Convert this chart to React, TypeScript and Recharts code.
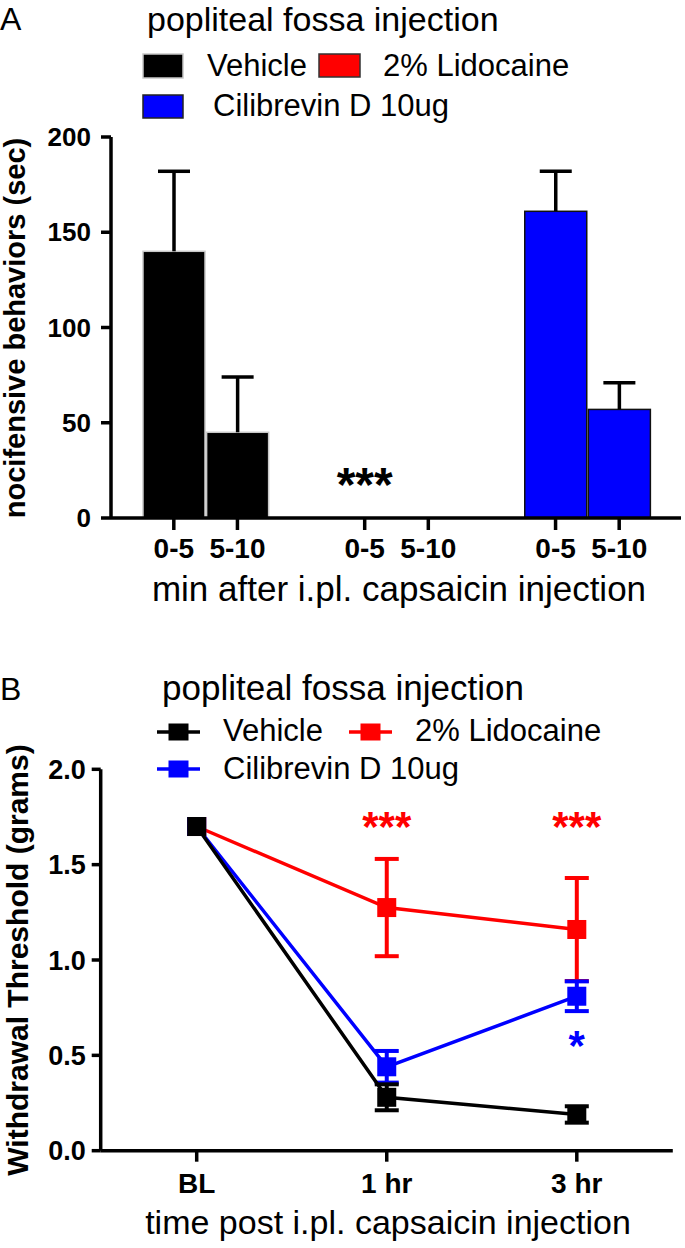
import React from "react";
import { BarChart, Bar, Cell, ErrorBar, XAxis, YAxis, ReferenceDot, LineChart, Line } from "recharts";

const FONT = "'Liberation Sans', Arial, Helvetica, sans-serif";
const BLACK = "#000000";
const RED = "#ff0000";
const BLUE = "#0000ff";

// panel A: nocifensive behaviours, seconds (mean, upper SEM)
const intervals = ["0-5", "5-10"];
const vehicleSec = [140, 45];
const vehicleSecErr = [42, 29];
const lidocaineSec = [0, 0];
const lidocaineSecErr = [0, 0];
const cilibrevinSec = [161, 57];
const cilibrevinSecErr = [21, 14];
const secTicks = [0, 50, 100, 150, 200];

// panel B: withdrawal threshold, grams
const timepoints = ["BL", "1 hr", "3 hr"];
const vehicleThr = [1.7, 0.28, 0.19];
const vehicleThrErr = [null, 0.068, 0.043];
const lidocaineThr = [1.7, 1.275, 1.16];
const lidocaineThrErr = [null, 0.255, 0.27];
const cilibrevinThr = [1.7, 0.44, 0.81];
const cilibrevinThrErr = [null, 0.083, 0.078];
const gramTicks = [0, 0.5, 1, 1.5, 2];

const groupsA = [
  { id: "v", fill: BLACK, edge: "#c8c8c8", mean: vehicleSec, err: vehicleSecErr },
  { id: "l", fill: RED, edge: "#222", mean: lidocaineSec, err: lidocaineSecErr },
  { id: "c", fill: BLUE, edge: "#111", mean: cilibrevinSec, err: cilibrevinSecErr },
];

// one slot per bar, with an empty slot between groups
const barRows: any[] = [];
groupsA.forEach((g, gi) => {
  if (gi > 0) barRows.push({ key: "gap" + gi, label: "", value: null, err: 0, fill: "none", edge: "none" });
  intervals.forEach((lab, i) => {
    barRows.push({ key: g.id + i, label: lab, value: g.mean[i], err: g.err[i], fill: g.fill, edge: g.edge });
  });
});
const barTickKeys = barRows.filter((r) => r.label).map((r) => r.key);
const labelOf: Record<string, string> = {};
barRows.forEach((r) => (labelOf[r.key] = r.label));

const starsA = [{ at: "l0", y: 18, text: "***", color: BLACK, size: 48 }];

const lineRows = timepoints.map((t, i) => ({
  time: t,
  vehicle: vehicleThr[i],
  vehicleErr: vehicleThrErr[i],
  lidocaine: lidocaineThr[i],
  lidocaineErr: lidocaineThrErr[i],
  cilibrevin: cilibrevinThr[i],
  cilibrevinErr: cilibrevinThrErr[i],
}));

const starsB = [
  { at: "1 hr", y: 1.7, text: "***", color: RED, size: 42 },
  { at: "3 hr", y: 1.7, text: "***", color: RED, size: 42 },
  { at: "3 hr", y: 0.555, text: "*", color: BLUE, size: 42 },
];

const axisStroke = { stroke: BLACK, strokeWidth: 3.5 };
const boldTick = (size: number) => ({ fill: BLACK, fontSize: size, fontWeight: 700, fontFamily: FONT });

// bar with a one-sided (upward) SEM whisker, scaled from the bar's own pixel height
function WhiskerBar(props: any) {
  const { x, y, width, height, fill, stroke, payload } = props;
  if (!height || !payload || !payload.value) return <g />;
  const cx = x + width / 2;
  const top = y - (payload.err * height) / payload.value;
  return (
    <g>
      <rect x={x} y={y} width={width} height={height} fill={fill} stroke={stroke} strokeWidth={1.5} />
      {payload.err > 0 && (
        <g stroke={BLACK} strokeWidth={3.5}>
          <line x1={cx} y1={y} x2={cx} y2={top} />
          <line x1={cx - 16} y1={top} x2={cx + 16} y2={top} />
        </g>
      )}
    </g>
  );
}

function squareDot(color: string) {
  return (props: any) => {
    const { cx, cy, index } = props;
    if (cx == null || cy == null) return <g key={color + index} />;
    return <rect key={color + index} x={cx - 9.5} y={cy - 9.5} width={19} height={19} fill={color} />;
  };
}

function starDot(s: any, i: number) {
  return (
    <ReferenceDot
      key={"star" + i}
      x={s.at}
      y={s.y}
      r={0}
      fill="none"
      stroke="none"
      label={{ value: s.text, position: "center", fill: s.color, fontSize: s.size, fontWeight: 700, fontFamily: FONT }}
    />
  );
}

function LineKey({ x, y, color }: { x: number; y: number; color: string }) {
  return (
    <g>
      <line x1={x} y1={y} x2={x + 43} y2={y} stroke={color} strokeWidth={3.5} />
      <rect x={x + 11.5} y={y - 8.5} width={20} height={17} fill={color} />
    </g>
  );
}

export default function App() {
  const reg = { fontFamily: FONT, fill: BLACK };
  return (
    <div style={{ position: "absolute", left: 0, top: 0, width: 685, height: 1248, background: "#fff" }}>
      <div style={{ position: "absolute", left: 0, top: 0 }}>
        <BarChart width={685} height={640} data={barRows} margin={{ top: 137, right: 4, bottom: 72, left: 0 }} barSize={62}>
          <XAxis
            dataKey="key"
            type="category"
            ticks={barTickKeys}
            interval={0}
            tickFormatter={(k: string) => labelOf[k] || ""}
            padding={{ left: 31, right: 30 }}
            height={50}
            tickSize={12}
            tickMargin={8}
            axisLine={axisStroke}
            tickLine={axisStroke}
            tick={boldTick(28)}
          />
          <YAxis
            type="number"
            domain={[0, 200]}
            ticks={secTicks}
            width={111}
            tickSize={10}
            tickMargin={10}
            axisLine={axisStroke}
            tickLine={axisStroke}
            tick={boldTick(26)}
          />
          <Bar dataKey="value" shape={WhiskerBar} isAnimationActive={false}>
            {barRows.map((r) => (
              <Cell key={r.key} fill={r.fill} stroke={r.edge} />
            ))}
          </Bar>
          {starsA.map(starDot)}
        </BarChart>
      </div>

      <div style={{ position: "absolute", left: 0, top: 640 }}>
        <LineChart width={685} height={608} data={lineRows} margin={{ top: 129.3, right: 12.2, bottom: 47.3, left: 0 }}>
          <XAxis
            dataKey="time"
            padding={{ left: 96, right: 96 }}
            height={50}
            tickSize={11}
            tickMargin={11}
            axisLine={axisStroke}
            tickLine={axisStroke}
            tick={boldTick(28)}
          />
          <YAxis
            type="number"
            domain={[0, 2]}
            ticks={gramTicks}
            tickFormatter={(v: number) => v.toFixed(1)}
            width={100.7}
            tickSize={9}
            tickMargin={6}
            axisLine={axisStroke}
            tickLine={axisStroke}
            tick={boldTick(27)}
          />
          <Line dataKey="lidocaine" stroke={RED} strokeWidth={3.5} dot={squareDot(RED)} activeDot={false} isAnimationActive={false}>
            <ErrorBar dataKey="lidocaineErr" width={12} strokeWidth={4} stroke={RED} direction="y" />
          </Line>
          <Line dataKey="cilibrevin" stroke={BLUE} strokeWidth={3.5} dot={squareDot(BLUE)} activeDot={false} isAnimationActive={false}>
            <ErrorBar dataKey="cilibrevinErr" width={12} strokeWidth={4} stroke={BLUE} direction="y" />
          </Line>
          <Line dataKey="vehicle" stroke={BLACK} strokeWidth={3.5} dot={squareDot(BLACK)} activeDot={false} isAnimationActive={false}>
            <ErrorBar dataKey="vehicleErr" width={12} strokeWidth={4} stroke={BLACK} direction="y" />
          </Line>
          {starsB.map(starDot)}
        </LineChart>
      </div>

      <svg width={685} height={1248} style={{ position: "absolute", left: 0, top: 0, pointerEvents: "none" }}>
        {/* panel A */}
        <text x={0} y={30} fontSize={32} {...reg}>A</text>
        <text x={147} y={31} fontSize={34} {...reg}>popliteal fossa injection</text>
        <rect x={143} y={54} width={40} height={24} fill={BLACK} stroke="#c8c8c8" strokeWidth={1.5} />
        <text x={207} y={76} fontSize={31} {...reg}>Vehicle</text>
        <rect x={319} y={54} width={41} height={23} fill={RED} stroke="#333" strokeWidth={1.5} />
        <text x={383} y={76} fontSize={31} {...reg}>2% Lidocaine</text>
        <rect x={143} y={95} width={40} height={23} fill={BLUE} stroke="#222" strokeWidth={1.5} />
        <text x={213} y={116} fontSize={31} {...reg}>Cilibrevin D 10ug</text>
        <text
          x={15}
          y={328}
          transform="rotate(-90 15 328)"
          textAnchor="middle"
          dominantBaseline="central"
          fontSize={29}
          fontWeight={700}
          {...reg}
        >
          nocifensive behaviors (sec)
        </text>
        <text x={399} y={601} textAnchor="middle" fontSize={35} {...reg}>min after i.pl. capsaicin injection</text>

        {/* panel B */}
        <text x={0} y={700} fontSize={32} {...reg}>B</text>
        <text x={162} y={700} fontSize={35} {...reg}>popliteal fossa injection</text>
        <LineKey x={157} y={732} color={BLACK} />
        <text x={223} y={741} fontSize={31} {...reg}>Vehicle</text>
        <LineKey x={349} y={732} color={RED} />
        <text x={415} y={741} fontSize={31} {...reg}>2% Lidocaine</text>
        <LineKey x={157} y={769} color={BLUE} />
        <text x={223} y={779} fontSize={31} {...reg}>Cilibrevin D 10ug</text>
        <text
          x={17}
          y={960}
          transform="rotate(-90 17 960)"
          textAnchor="middle"
          dominantBaseline="central"
          fontSize={30}
          fontWeight={700}
          {...reg}
        >
          Withdrawal Threshold (grams)
        </text>
        <text x={388} y={1234} textAnchor="middle" fontSize={34} {...reg}>time post i.pl. capsaicin injection</text>
      </svg>
    </div>
  );
}
